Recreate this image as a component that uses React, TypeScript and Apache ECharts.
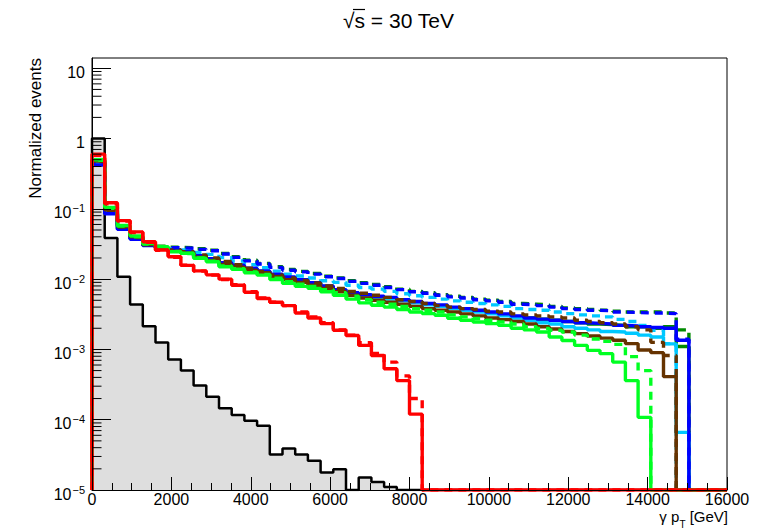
import React, { useEffect, useRef } from "react";
import * as echarts from "echarts";

// ---- Histogram definition ----
const BIN_WIDTH = 320;
const N_BINS = 50;
const X_MIN = 0;
const X_MAX = 16000;
const X_TICK_STEP = 2000;
const Y_MIN = 1e-5;
const Y_MAX = 14;
const Y_DECADES = [-5, -4, -3, -2, -1, 0, 1];
const Y_MINOR_MULTIPLIERS = [2, 3, 4, 5, 6, 7, 8, 9];

// ---- Bin contents (bin i covers [i*320, (i+1)*320) GeV); missing bins are empty ----
const BLACK = [1.0, 0.0385, 0.0108, 0.00435, 0.00213, 0.00125, 0.00072, 0.0005, 0.000306, 0.000213, 0.000145, 0.000117, 9.7e-5, 8.2e-5, 3.2e-5, 3.9e-5, 3.2e-5, 2.6e-5, 1.77e-5, 1.98e-5, 0, 1.5e-5, 1.3e-5, 1.1e-5];

const RED_SOLID = [0.6, 0.122, 0.068, 0.047, 0.034, 0.026, 0.0208, 0.0157, 0.0131, 0.0115, 0.01, 0.0082, 0.0065, 0.0053, 0.0047, 0.0042, 0.0033, 0.0028, 0.00233, 0.00187, 0.00158, 0.00114, 0.00082, 0.00053, 0.00036, 0.00012];
const RED_DASHED = [0.58, 0.118, 0.067, 0.046, 0.0335, 0.0258, 0.0205, 0.0158, 0.013, 0.0114, 0.0099, 0.0083, 0.0066, 0.0054, 0.0047, 0.0042, 0.0034, 0.0029, 0.0024, 0.0019, 0.0016, 0.00125, 0.00088, 0.00066, 0.00042, 0.0002];

const GREEN_SOLID = [0.5, 0.105, 0.058, 0.041, 0.032, 0.0289, 0.0245, 0.0233, 0.0198, 0.0177, 0.015, 0.0138, 0.0123, 0.0114, 0.0099, 0.0087, 0.0079, 0.0074, 0.0066, 0.0059, 0.0052, 0.0046, 0.00425, 0.004, 0.0037, 0.0034, 0.00323, 0.00306, 0.00278, 0.0026, 0.00246, 0.00233, 0.0022, 0.002, 0.0019, 0.00177, 0.0015, 0.00134, 0.00114, 0.00097, 0.00087, 0.00066, 0.00036, 0.000108];
const GREEN_DASHED = [0.49, 0.102, 0.057, 0.04, 0.0315, 0.0285, 0.0248, 0.0232, 0.02, 0.018, 0.0154, 0.0141, 0.0127, 0.0117, 0.0103, 0.0092, 0.0085, 0.0079, 0.0071, 0.0064, 0.0057, 0.0051, 0.0047, 0.0044, 0.0041, 0.0038, 0.0036, 0.0034, 0.0031, 0.0029, 0.00275, 0.0026, 0.00245, 0.0023, 0.0021, 0.00198, 0.00187, 0.00177, 0.0016, 0.00141, 0.0013, 0.00118, 0.00079, 0.0005];

const BROWN_SOLID = [0.48, 0.097, 0.056, 0.04, 0.031, 0.028, 0.025, 0.0235, 0.0205, 0.0185, 0.0162, 0.0148, 0.0134, 0.0123, 0.0109, 0.0098, 0.009, 0.0082, 0.0074, 0.0066, 0.0059, 0.0054, 0.005, 0.0047, 0.0044, 0.0041, 0.0038, 0.0036, 0.0034, 0.0032, 0.003, 0.0028, 0.00265, 0.0025, 0.0023, 0.0021, 0.00195, 0.0018, 0.00168, 0.00155, 0.00145, 0.00135, 0.00121, 0.00098, 0.0009, 0.00041];
const BROWN_DASHED = [0.47, 0.095, 0.055, 0.039, 0.031, 0.028, 0.026, 0.0245, 0.022, 0.02, 0.0178, 0.016, 0.0143, 0.0129, 0.0115, 0.0104, 0.0096, 0.0088, 0.008, 0.0074, 0.0067, 0.0063, 0.0059, 0.0055, 0.0051, 0.0048, 0.0045, 0.0042, 0.004, 0.0038, 0.0037, 0.0035, 0.0034, 0.0032, 0.0031, 0.003, 0.0029, 0.0028, 0.0026, 0.0025, 0.0024, 0.0023, 0.0021, 0.0019, 0.00126, 0.00082];

const CYAN_SOLID = [0.46, 0.092, 0.054, 0.038, 0.0305, 0.028, 0.026, 0.0243, 0.0212, 0.0192, 0.0169, 0.0155, 0.014, 0.0128, 0.0115, 0.0104, 0.0095, 0.0086, 0.0078, 0.0069, 0.0062, 0.0058, 0.0055, 0.0052, 0.0049, 0.0046, 0.0043, 0.0041, 0.0038, 0.0036, 0.0034, 0.0032, 0.003, 0.0028, 0.0026, 0.0024, 0.0023, 0.0021, 0.002, 0.0019, 0.0018, 0.00177, 0.0017, 0.0016, 0.0015, 0.0012, 0.000066];
const CYAN_DASHED = [0.45, 0.09, 0.053, 0.038, 0.031, 0.0285, 0.027, 0.026, 0.024, 0.0225, 0.0202, 0.0181, 0.0161, 0.0145, 0.013, 0.0118, 0.0111, 0.0104, 0.0095, 0.009, 0.0082, 0.0076, 0.0072, 0.0067, 0.0062, 0.0058, 0.0055, 0.0052, 0.0049, 0.0047, 0.0045, 0.0043, 0.0041, 0.0038, 0.0037, 0.0036, 0.0034, 0.00323, 0.0031, 0.003, 0.0029, 0.00268, 0.0025, 0.0022, 0.00187, 0.00121];

const BLUE_SOLID = [0.42, 0.085, 0.051, 0.037, 0.03, 0.0278, 0.026, 0.0245, 0.0215, 0.0195, 0.0172, 0.0158, 0.0143, 0.0131, 0.0118, 0.0107, 0.0098, 0.0089, 0.008, 0.0071, 0.0064, 0.006, 0.0057, 0.0055, 0.0051, 0.0048, 0.0045, 0.0043, 0.004, 0.0038, 0.0036, 0.0034, 0.0032, 0.003, 0.0028, 0.0027, 0.0026, 0.0025, 0.0024, 0.00235, 0.0023, 0.0022, 0.00215, 0.0021, 0.00205, 0.002, 0.00135];
const BLUE_DASHED = [0.44, 0.09, 0.053, 0.038, 0.031, 0.029, 0.028, 0.0275, 0.0265, 0.0253, 0.0228, 0.0204, 0.0182, 0.0164, 0.0147, 0.0134, 0.0127, 0.0118, 0.0108, 0.0102, 0.0093, 0.0087, 0.0082, 0.0076, 0.0071, 0.0066, 0.0063, 0.0059, 0.0056, 0.0054, 0.0051, 0.0049, 0.0047, 0.0044, 0.0043, 0.0042, 0.004, 0.0038, 0.0037, 0.0036, 0.00355, 0.0034, 0.00335, 0.0033, 0.0033, 0.00323, 0.0014];

const DKGREEN_SOLID = [0.45, 0.088, 0.052, 0.0375, 0.0302, 0.0279, 0.0258, 0.0243, 0.0212, 0.0192, 0.017, 0.0156, 0.0141, 0.0129, 0.0116, 0.0105, 0.0096, 0.0088, 0.0079, 0.007, 0.0063, 0.0059, 0.0056, 0.0054, 0.005, 0.0047, 0.0044, 0.0042, 0.0039, 0.0037, 0.0035, 0.0033, 0.0031, 0.0029, 0.0028, 0.0027, 0.0026, 0.0025, 0.0024, 0.0023, 0.00225, 0.0022, 0.0021, 0.0021, 0.002, 0.0021, 0.0011];
const DKGREEN_DASHED = [0.45, 0.091, 0.054, 0.0385, 0.0312, 0.0293, 0.0284, 0.0279, 0.027, 0.0258, 0.0232, 0.0208, 0.0186, 0.0167, 0.015, 0.0137, 0.0129, 0.012, 0.011, 0.0104, 0.0095, 0.0089, 0.0084, 0.0078, 0.0072, 0.0067, 0.0064, 0.006, 0.0057, 0.0055, 0.0052, 0.005, 0.0048, 0.0045, 0.0044, 0.0043, 0.0041, 0.0039, 0.0038, 0.0037, 0.0036, 0.0035, 0.0034, 0.0034, 0.0034, 0.0033, 0.0019];

// ---- Styles (drawing order: first is at the bottom) ----
const SERIES_STYLES = [
  { name: "dkgreen solid", values: DKGREEN_SOLID, color: "#008a00", dashed: false },
  { name: "dkgreen dashed", values: DKGREEN_DASHED, color: "#008a00", dashed: true },
  { name: "cyan solid", values: CYAN_SOLID, color: "#00c8ff", dashed: false },
  { name: "cyan dashed", values: CYAN_DASHED, color: "#00c8ff", dashed: true },
  { name: "blue solid", values: BLUE_SOLID, color: "#0000ff", dashed: false },
  { name: "blue dashed", values: BLUE_DASHED, color: "#0000ff", dashed: true },
  { name: "brown solid", values: BROWN_SOLID, color: "#663300", dashed: false },
  { name: "brown dashed", values: BROWN_DASHED, color: "#663300", dashed: true },
  { name: "green solid", values: GREEN_SOLID, color: "#00ff22", dashed: false },
  { name: "green dashed", values: GREEN_DASHED, color: "#00ff22", dashed: true },
  { name: "red dashed", values: RED_DASHED, color: "#ff0000", dashed: true },
  { name: "red solid", values: RED_SOLID, color: "#ff0000", dashed: false },
];

const FONT = '"Liberation Sans", Arial, Helvetica, sans-serif';

function histPoints(values: number[]): [number, number][] {
  const pts: [number, number][] = [[X_MIN, Y_MIN]];
  let last = Y_MIN;
  for (let i = 0; i < N_BINS; i++) {
    const v = values[i] ?? 0;
    last = v > 0 ? v : Y_MIN;
    pts.push([X_MIN + i * BIN_WIDTH, last]);
  }
  pts.push([X_MIN + N_BINS * BIN_WIDTH, last]);
  return pts;
}

function yLabel(v: number): string {
  const lg = Math.log10(v);
  const e = Math.round(lg);
  if (Math.abs(lg - e) > 1e-6) return "";
  if (e === 0) return "{b|1}";
  if (e === 1) return "{b|10}";
  return "{b|10}{s|" + (e < 0 ? "\u2212" : "") + Math.abs(e) + "}";
}

export default function App() {
  const ref = useRef<HTMLDivElement>(null);
  useEffect(() => {
    if (!ref.current) return;
    const chart = echarts.init(ref.current, undefined, { renderer: "svg" });

    const minorData: [number, number][] = [];
    for (const d of Y_DECADES) {
      for (const m of Y_MINOR_MULTIPLIERS) {
        const v = m * Math.pow(10, d);
        if (v < Y_MAX) minorData.push([X_MIN, v]);
      }
    }

    const series: any[] = [
      {
        type: "line",
        name: "black",
        data: histPoints(BLACK),
        step: "end",
        symbol: "none",
        silent: true,
        lineStyle: { color: "#000", width: 2.5 },
        areaStyle: { color: "#dedede", opacity: 1, origin: "start" },
      },
      ...SERIES_STYLES.map((s) => ({
        type: "line",
        name: s.name,
        data: histPoints(s.values),
        step: "end",
        symbol: "none",
        silent: true,
        lineStyle: { color: s.color, width: 3.4, type: s.dashed ? [8, 6] : "solid" },
      })),
      {
        type: "custom",
        name: "yminor",
        data: minorData,
        silent: true,
        z: 20,
        renderItem: (_p: any, api: any) => {
          const p = api.coord([api.value(0), api.value(1)]);
          return {
            type: "line",
            shape: { x1: p[0], y1: p[1], x2: p[0] + 9.5, y2: p[1] },
            style: { stroke: "#000", lineWidth: 1 },
          };
        },
      },
    ];

    chart.setOption({
      animation: false,
      backgroundColor: "#fff",
      grid: { left: 92, right: 55, top: 58, bottom: 42, show: true, borderColor: "#000", borderWidth: 1, backgroundColor: "transparent" },
      xAxis: {
        type: "value",
        min: X_MIN,
        max: X_MAX,
        interval: X_TICK_STEP,
        z: 10,
        axisLine: { show: true, onZero: false, lineStyle: { color: "#000", width: 1 } },
        axisTick: { show: true, inside: true, length: 13, lineStyle: { color: "#000" } },
        minorTick: { show: true, splitNumber: 4, length: 7, lineStyle: { color: "#000" } },
        splitLine: { show: false },
        axisLabel: {
          color: "#000",
          fontSize: 16,
          fontFamily: FONT,
          margin: 3,
          lineHeight: 13,
          formatter: (v: number) => String(v),
        },
      },
      yAxis: {
        type: "log",
        logBase: 10,
        min: Y_MIN,
        max: Y_MAX,
        splitNumber: 6,
        z: 10,
        axisLine: { show: true, lineStyle: { color: "#000", width: 1 } },
        axisTick: { show: true, inside: true, length: 19, lineStyle: { color: "#000" } },
        splitLine: { show: false },
        axisLabel: {
          showMaxLabel: false,
          margin: 7,
          formatter: yLabel,
          rich: {
            b: { fontSize: 16, fontFamily: FONT, color: "#000", lineHeight: 16, padding: [4, 0, 4, 0], verticalAlign: "top" },
            s: { fontSize: 11, fontFamily: FONT, color: "#000", lineHeight: 11, padding: [2, 0, 0, 1], verticalAlign: "top" },
          },
        },
      },
      graphic: [
        {
          type: "text",
          x: 343,
          y: 20,
          style: {
            text: "\u221As = 30 TeV",
            font: "21px " + FONT,
            fill: "#000",
            align: "left",
            verticalAlign: "middle",
            textAlign: "left",
            textVerticalAlign: "middle",
          },
        },
        {
          type: "line",
          shape: { x1: 353, y1: 9.5, x2: 365, y2: 9.5 },
          style: { stroke: "#000", lineWidth: 1.2 },
        },
        {
          type: "text",
          x: 35,
          y: 58,
          rotation: Math.PI / 2,
          style: {
            text: "Normalized events",
            font: "17px " + FONT,
            fill: "#000",
            align: "right",
            verticalAlign: "middle",
            textAlign: "right",
            textVerticalAlign: "middle",
          },
        },
        {
          type: "text",
          x: 728,
          y: 509,
          style: {
            text: "{n|\u03B3 p}{t|T}{n| [GeV]}",
            align: "right",
            textAlign: "right",
            rich: {
              n: { fontSize: 15, fontFamily: FONT, fill: "#000", color: "#000", lineHeight: 15, verticalAlign: "top" },
              t: { fontSize: 10, fontFamily: FONT, fill: "#000", color: "#000", lineHeight: 10, padding: [10, 0, 0, 0], verticalAlign: "top" },
            },
          },
        },
      ],
      series,
    });
    return () => chart.dispose();
  }, []);
  return <div ref={ref} style={{ position: "fixed", left: 0, top: 0, width: 782, height: 532 }} />;
}
